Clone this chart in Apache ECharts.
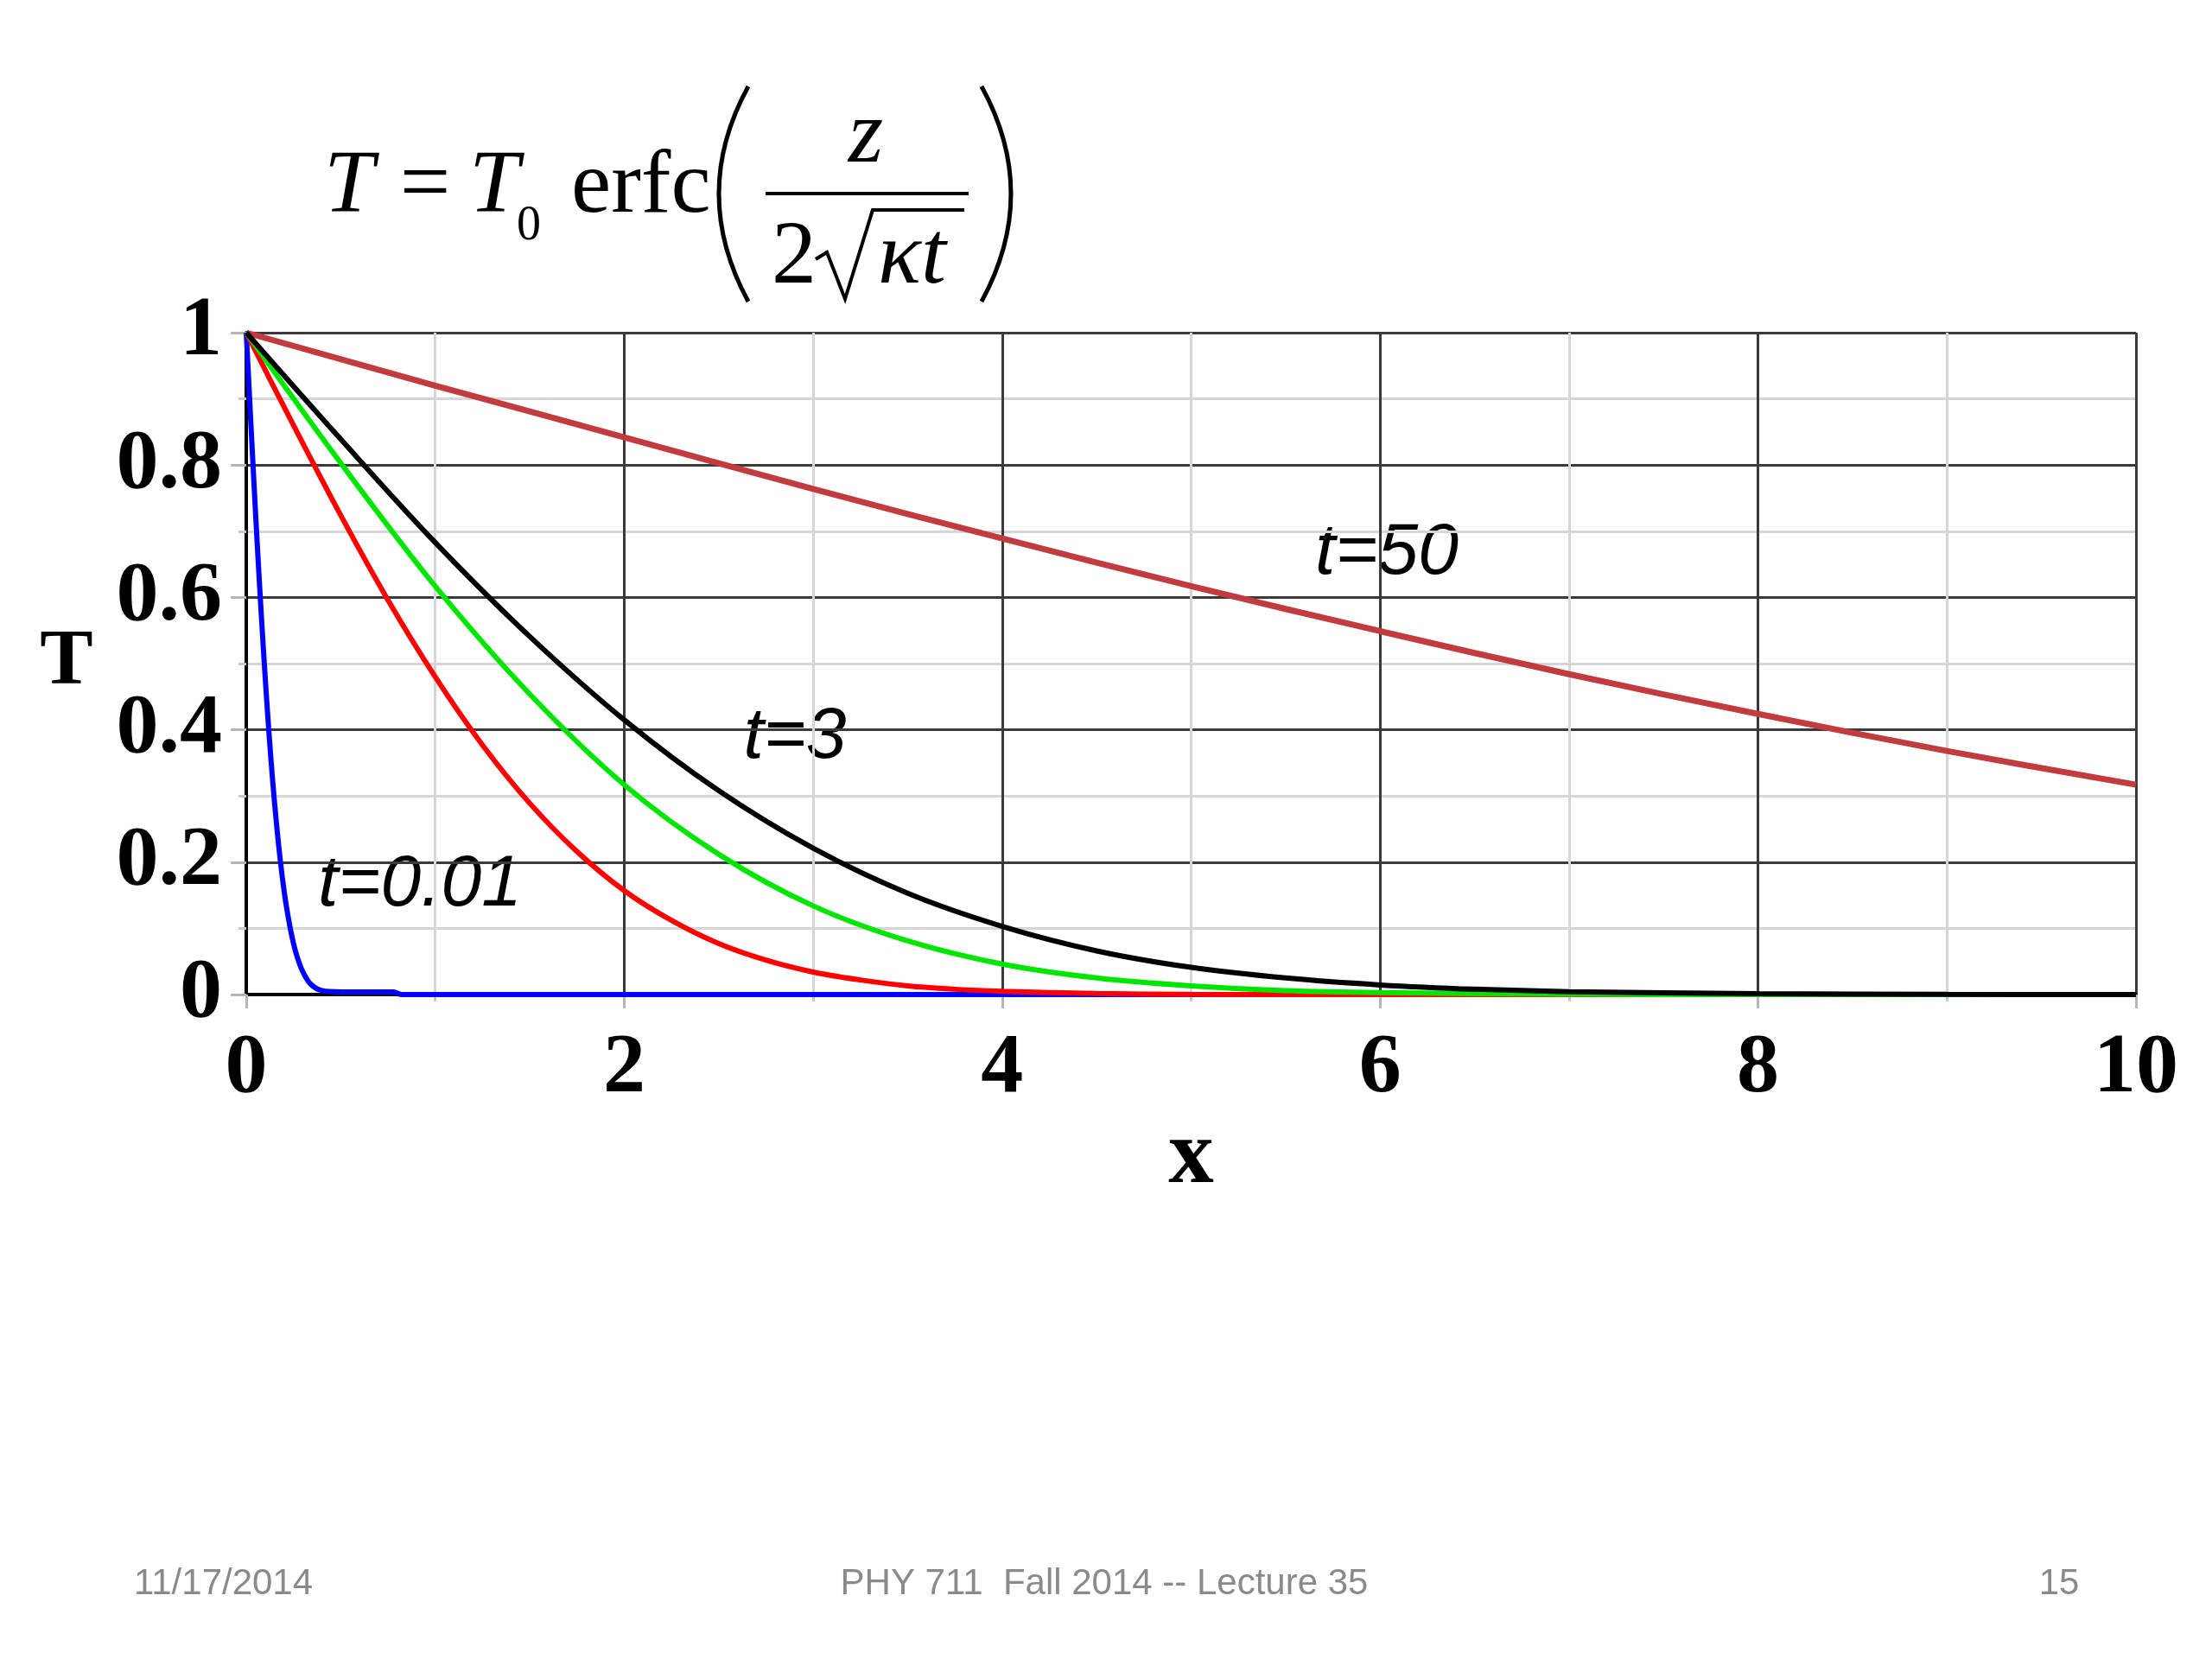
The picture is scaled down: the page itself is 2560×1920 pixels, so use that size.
<!DOCTYPE html>
<html>
<head>
<meta charset="utf-8">
<script src="https://cdn.jsdelivr.net/npm/echarts@6/dist/echarts.min.js"></script>
<style>
html,body{margin:0;padding:0;background:#fff;}
#c{width:2560px;height:1920px;}
</style>
</head>
<body>
<div id="c"></div>
<script>
// ---- data ----
const xTicks = [0, 2, 4, 6, 8, 10];
const yTicks = [0, 0.2, 0.4, 0.6, 0.8, 1];

const x001 = [0, 0.02, 0.04, 0.06, 0.08, 0.10, 0.12, 0.14, 0.16, 0.18, 0.20, 0.22, 0.24, 0.26, 0.28, 0.30, 0.34, 0.40, 0.50, 0.78, 0.82, 10];
const T001 = [1, 0.888, 0.777, 0.671, 0.572, 0.480, 0.396, 0.322, 0.258, 0.203, 0.157, 0.120, 0.090, 0.066, 0.048, 0.034, 0.016, 0.006, 0.004, 0.004, 0, 0];

const x1 = [0, 0.25, 0.5, 0.75, 1, 1.25, 1.5, 1.75, 2, 2.25, 2.5, 2.75, 3, 3.25, 3.5, 3.75, 4, 4.5, 5, 6, 10];
const T1 = [1, 0.860, 0.724, 0.596, 0.480, 0.377, 0.289, 0.216, 0.157, 0.112, 0.077, 0.052, 0.034, 0.022, 0.013, 0.008, 0.005, 0.0015, 0.0004, 0, 0];

const x2 = [0, 0.5, 1, 1.5, 2, 2.5, 3, 3.5, 4, 4.5, 5, 5.5, 6, 7, 8, 10];
const T2 = [1, 0.803, 0.617, 0.454, 0.317, 0.212, 0.134, 0.081, 0.046, 0.025, 0.013, 0.006, 0.003, 0.0005, 0, 0];

const x3 = [0, 0.5, 1, 1.5, 2, 2.5, 3, 3.5, 4, 4.5, 5, 5.5, 6, 6.5, 7, 8, 9, 10];
const T3 = [1, 0.839, 0.683, 0.541, 0.415, 0.308, 0.221, 0.153, 0.103, 0.066, 0.041, 0.025, 0.0145, 0.008, 0.0044, 0.0012, 0.0003, 0];

const x50 = [0, 1, 2, 3, 4, 5, 6, 7, 8, 9, 10];
const T50 = [1, 0.920, 0.842, 0.764, 0.689, 0.617, 0.549, 0.484, 0.424, 0.368, 0.317];

const curveLabels = ['t=50', 't=3', 't=0.01'];
const footerLeft = '11/17/2014';
const footerCenter = 'PHY 711  Fall 2014 -- Lecture 35';
const footerRight = '15';

// ---- build ----
function zip(xs, ys) { return xs.map((x, i) => [x, ys[i]]); }

const chart = echarts.init(document.getElementById('c'), null, {renderer: 'canvas'});

const serifBold = {fontFamily: 'Liberation Serif', fontWeight: 'bold', color: '#000'};

function lineSeries(name, xs, ys, color, width) {
  return {
    name: name, type: 'line', data: zip(xs, ys), showSymbol: false, symbol: 'none',
    smooth: 0.35,
    lineStyle: {color: color, width: width}, itemStyle: {color: color},
    clip: true, animation: false
  };
}

const fMain = '104px "Liberation Serif"';
const fItal = 'italic 104px "Liberation Serif"';

const option = {
  backgroundColor: '#ffffff',
  animation: false,
  grid: {left: 285, right: 88, top: 385, bottom: 769, containLabel: false},
  xAxis: {
    type: 'value', min: 0, max: 10, interval: 2,
    axisLine: {show: true, onZero: false, lineStyle: {color: '#000', width: 4}},
    axisTick: {show: true, length: 16, lineStyle: {color: '#b5b5b5', width: 3}},
    minorTick: {show: true, splitNumber: 2, length: 8, lineStyle: {color: '#c8c8c8', width: 3}},
    axisLabel: Object.assign({fontSize: 98, margin: 38, formatter: v => String(v)}, serifBold),
    splitLine: {show: true, lineStyle: {color: '#3a3a3a', width: 3}},
    minorSplitLine: {show: true, lineStyle: {color: '#d6d6d6', width: 3}},
    name: 'x', nameLocation: 'middle', nameGap: 115,
    nameTextStyle: Object.assign({fontSize: 105}, serifBold)
  },
  yAxis: {
    type: 'value', min: 0, max: 1, interval: 0.2,
    axisLine: {show: true, onZero: false, lineStyle: {color: '#000', width: 4}},
    axisTick: {show: true, length: 18, lineStyle: {color: '#b5b5b5', width: 3}},
    minorTick: {show: true, splitNumber: 2, length: 9, lineStyle: {color: '#c8c8c8', width: 3}},
    axisLabel: Object.assign({fontSize: 98, margin: 28, formatter: v => String(parseFloat(v.toFixed(1)))}, serifBold),
    splitLine: {show: true, lineStyle: {color: '#3a3a3a', width: 3}},
    minorSplitLine: {show: true, lineStyle: {color: '#d6d6d6', width: 3}}
  },
  series: [
    lineSeries('t=50', x50, T50, '#c23b3f', 7),
    lineSeries('t=0.01', x001, T001, '#0000ff', 6),
    lineSeries('t=1', x1, T1, '#ff0000', 6),
    lineSeries('t=2', x2, T2, '#00e600', 6),
    lineSeries('t=3', x3, T3, '#000000', 6)
  ],
  graphic: [
    // y-axis title
    {type: 'text', x: 77, y: 767, style: {text: 'T', font: 'bold 92px "Liberation Serif"', fill: '#000', align: 'center', verticalAlign: 'middle'}},
    // curve labels
    {type: 'text', x: 1605, y: 641, style: {text: curveLabels[0], font: 'italic 84px "Liberation Sans"', fill: '#000', align: 'center', verticalAlign: 'middle'}},
    {type: 'text', x: 920, y: 854, style: {text: curveLabels[1], font: 'italic 84px "Liberation Sans"', fill: '#000', align: 'center', verticalAlign: 'middle'}},
    {type: 'text', x: 486, y: 1025, style: {text: curveLabels[2], font: 'italic 84px "Liberation Sans"', fill: '#000', align: 'center', verticalAlign: 'middle'}},
    // footer
    {type: 'text', x: 155, y: 1833, style: {text: footerLeft, font: '42px "Liberation Sans"', fill: '#8a8a8a', align: 'left', verticalAlign: 'middle'}},
    {type: 'text', x: 1278, y: 1833, style: {text: footerCenter, font: '42px "Liberation Sans"', fill: '#8a8a8a', align: 'center', verticalAlign: 'middle'}},
    {type: 'text', x: 2383, y: 1833, style: {text: footerRight, font: '42px "Liberation Sans"', fill: '#8a8a8a', align: 'center', verticalAlign: 'middle'}},
    // formula  T = T0 erfc( z / 2 sqrt(kappa t) )
    {type: 'text', x: 375, y: 218, style: {text: 'T', font: fItal, fill: '#000', align: 'left', verticalAlign: 'middle'}},
    {type: 'text', x: 492, y: 218, style: {text: '=', font: fMain, fill: '#000', align: 'center', verticalAlign: 'middle'}},
    {type: 'text', x: 543, y: 218, style: {text: 'T', font: fItal, fill: '#000', align: 'left', verticalAlign: 'middle'}},
    {type: 'text', x: 598, y: 262, style: {text: '0', font: '56px "Liberation Serif"', fill: '#000', align: 'left', verticalAlign: 'middle'}},
    {type: 'text', x: 661, y: 218, style: {text: 'erfc', font: fMain, fill: '#000', align: 'left', verticalAlign: 'middle'}},
    {type: 'bezierCurve', shape: {x1: 866, y1: 100, cpx1: 798, cpy1: 224, x2: 866, y2: 349}, style: {stroke: '#000', lineWidth: 5, fill: null}},
    {type: 'bezierCurve', shape: {x1: 1136, y1: 100, cpx1: 1204, cpy1: 224, x2: 1136, y2: 349}, style: {stroke: '#000', lineWidth: 5, fill: null}},
    {type: 'text', x: 1002, y: 160, style: {text: 'z', font: fItal, fill: '#000', align: 'center', verticalAlign: 'middle'}},
    {type: 'line', shape: {x1: 886, y1: 224, x2: 1121, y2: 224}, style: {stroke: '#000', lineWidth: 4}},
    {type: 'text', x: 893, y: 300, style: {text: '2', font: fMain, fill: '#000', align: 'left', verticalAlign: 'middle'}},
    {type: 'polyline', shape: {points: [[944, 300], [957, 292], [978, 346], [1010, 243], [1116, 243]]}, style: {stroke: '#000', lineWidth: 4, fill: null}},
    {type: 'text', x: 1016, y: 300, style: {text: 'κt', font: fItal, fill: '#000', align: 'left', verticalAlign: 'middle'}}
  ]
};

chart.setOption(option);
</script>
</body>
</html>
